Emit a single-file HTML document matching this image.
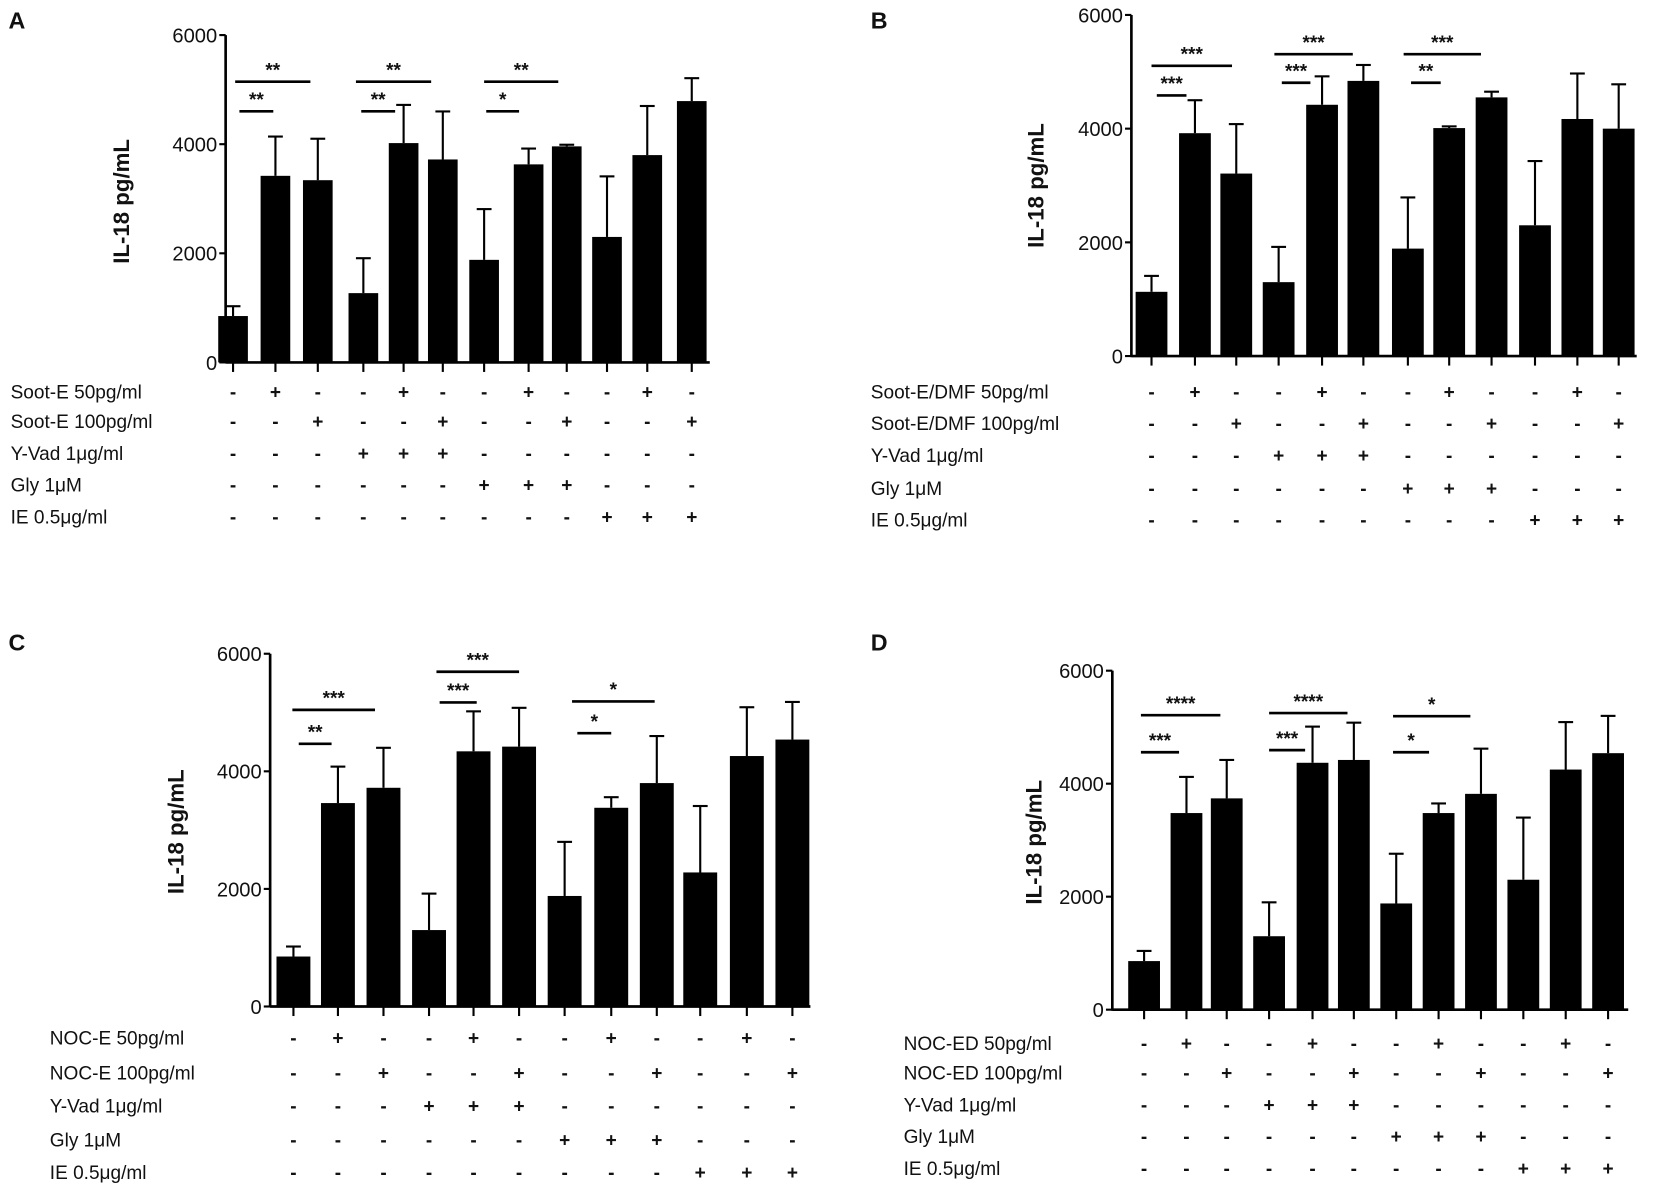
<!DOCTYPE html>
<html><head><meta charset="utf-8"><style>
html,body{margin:0;padding:0;background:#fff;}
svg{display:block;}
text{font-family:"Liberation Sans",sans-serif;fill:#111;}
</style></head><body>
<svg id="s" width="1660" height="1192" viewBox="0 0 1567 1125" xmlns="http://www.w3.org/2000/svg">
<text x="8" y="27" font-size="22" font-weight="bold">A</text>
<text x="822" y="27" font-size="22" font-weight="bold">B</text>
<text x="8" y="614" font-size="22" font-weight="bold">C</text>
<text x="822" y="614" font-size="22" font-weight="bold">D</text>
<text transform="translate(122,190) rotate(-90)" text-anchor="middle" font-size="21" font-weight="bold">IL-18 pg/mL</text>
<text transform="translate(985,175) rotate(-90)" text-anchor="middle" font-size="21" font-weight="bold">IL-18 pg/mL</text>
<text transform="translate(173,785) rotate(-90)" text-anchor="middle" font-size="21" font-weight="bold">IL-18 pg/mL</text>
<text transform="translate(983,795) rotate(-90)" text-anchor="middle" font-size="21" font-weight="bold">IL-18 pg/mL</text>
<g font-size="18">
<text x="10" y="376">Soot-E 50pg/ml</text><text x="10" y="404">Soot-E 100pg/ml</text><text x="10" y="434">Y-Vad 1μg/ml</text><text x="10" y="464">Gly 1μM</text><text x="10" y="494">IE 0.5μg/ml</text>
<text x="822" y="376">Soot-E/DMF 50pg/ml</text><text x="822" y="406">Soot-E/DMF 100pg/ml</text><text x="822" y="436">Y-Vad 1μg/ml</text><text x="822" y="467">Gly 1μM</text><text x="822" y="497">IE 0.5μg/ml</text>
<text x="47" y="986">NOC-E 50pg/ml</text><text x="47" y="1019">NOC-E 100pg/ml</text><text x="47" y="1050">Y-Vad 1μg/ml</text><text x="47" y="1082">Gly 1μM</text><text x="47" y="1113">IE 0.5μg/ml</text>
<text x="853" y="991">NOC-ED 50pg/ml</text><text x="853" y="1019">NOC-ED 100pg/ml</text><text x="853" y="1049">Y-Vad 1μg/ml</text><text x="853" y="1079">Gly 1μM</text><text x="853" y="1109">IE 0.5μg/ml</text>
</g>
</svg>
<script>
var s=document.getElementById('s'),NS='http://www.w3.org/2000/svg';
function el(t,a,txt){var e=document.createElementNS(NS,t);for(var k in a)e.setAttribute(k,a[k]);if(txt)e.textContent=txt;s.appendChild(e);return e;}
function ln(x1,y1,x2,y2,w){el('line',{x1:x1,y1:y1,x2:x2,y2:y2,stroke:'#000','stroke-width':w||2});}
var pat=["-+--+--+--+-","--+--+--+--+","---+++------","------+++---","---------+++"];
var P=[
{ax:213,top:33,zero:342,end:670,bw:28,c:[220,260,300,343,381,418,457,499,535,573,611,653],
 v:[[850,180],[3420,720],[3340,760],[1270,640],[4020,700],[3720,880],[1880,930],[3630,290],[3960,30],[2300,1110],[3800,900],[4790,420]],
 rows:[370,398,428,458,488],
 sig:[[222,293,77,'**'],[226,258,105,'**'],[336,407,77,'**'],[341,373,105,'**'],[457,527,77,'**'],[459,490,105,'*']]},
{ax:1068,top:14,zero:336,end:1545,bw:30,c:[1087,1128,1167,1207,1248,1287,1329,1368,1408,1449,1489,1528],
 v:[[1130,280],[3920,580],[3210,870],[1300,620],[4420,500],[4840,280],[1890,900],[4010,30],[4550,100],[2300,1130],[4170,800],[4000,780]],
 rows:[370,400,430,461,491],
 sig:[[1087,1163,62,'***'],[1092,1120,90,'***'],[1203,1277,51,'***'],[1210,1237,78,'***'],[1325,1398,51,'***'],[1332,1360,78,'**']]},
{ax:255,top:617,zero:950,end:765,bw:32,c:[277,319,362,405,447,490,533,577,620,661,705,748],
 v:[[850,170],[3460,620],[3720,680],[1300,620],[4340,680],[4420,660],[1880,920],[3380,180],[3800,800],[2280,1130],[4260,830],[4540,640]],
 rows:[980,1013,1044,1076,1107],
 sig:[[276,354,670,'***'],[282,313,702,'**'],[412,490,634,'***'],[415,450,663,'***'],[540,618,662,'*'],[545,577,692,'*']]},
{ax:1050,top:633,zero:953,end:1537,bw:30,c:[1080,1120,1158,1198,1239,1278,1318,1358,1398,1438,1478,1518],
 v:[[860,180],[3480,640],[3740,680],[1300,600],[4370,640],[4420,660],[1880,880],[3480,170],[3820,800],[2300,1100],[4250,840],[4540,660]],
 rows:[985,1013,1043,1073,1103],
 sig:[[1077,1152,675,'****'],[1077,1113,710,'***'],[1198,1272,673,'****'],[1198,1232,708,'***'],[1315,1388,676,'*'],[1315,1349,710,'*']]}
];
P.forEach(function(p){
 var sc=(p.zero-p.top)/6000;function Y(v){return p.zero-v*sc;}
 p.c.forEach(function(cx,i){var m=p.v[i][0],e=p.v[i][1];
  el('rect',{x:cx-p.bw/2,y:Y(m),width:p.bw,height:p.zero-Y(m),fill:'#000'});
  ln(cx,Y(m),cx,Y(m+e),2);ln(cx-7,Y(m+e),cx+7,Y(m+e),2);
  ln(cx,p.zero,cx,p.zero+9,2);
  p.rows.forEach(function(ry,r){el('text',{x:cx,y:ry+6,'text-anchor':'middle','font-size':18,'font-weight':'bold'},pat[r][i]);});
 });
 ln(p.ax,p.top,p.ax,p.zero+1,2.5);ln(p.ax,p.zero,p.end,p.zero,2.5);
 [0,2000,4000,6000].forEach(function(t){ln(p.ax-6,Y(t),p.ax,Y(t),2);el('text',{x:p.ax-8,y:Y(t)+7,'text-anchor':'end','font-size':19},String(t));});
 p.sig.forEach(function(g){ln(g[0],g[2],g[1],g[2],2.5);el('text',{x:(g[0]+g[1])/2,y:g[2]-5,'text-anchor':'middle','font-size':18,'font-weight':'bold'},g[3]);});
});
</script>
</body></html>
